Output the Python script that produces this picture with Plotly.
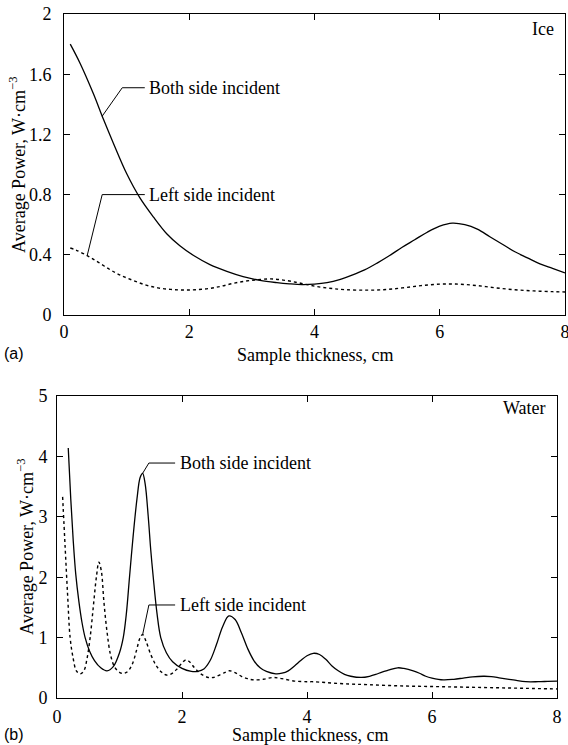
import numpy as np
import plotly.graph_objects as go

W, H = 568, 745

# ---------------- data ----------------
ice_both_x = [0.1, 0.26, 0.47, 0.63, 0.79, 1.0, 1.21, 1.43, 1.64, 1.85, 2.07, 2.33, 2.6, 2.86, 3.13,
              3.4, 3.6, 3.8, 4.0, 4.2, 4.4, 4.6, 4.8, 5.0, 5.2, 5.4, 5.6, 5.8, 6.0, 6.2, 6.4, 6.6,
              6.8, 7.0, 7.2, 7.4, 7.6, 7.8, 8.0]
ice_both_y = [1.80, 1.67, 1.47, 1.30, 1.14, 0.94, 0.78, 0.65, 0.54, 0.46, 0.395, 0.335, 0.29, 0.255,
              0.23, 0.215, 0.207, 0.202, 0.205, 0.215, 0.235, 0.265, 0.30, 0.345, 0.395, 0.45, 0.50,
              0.55, 0.59, 0.61, 0.60, 0.57, 0.52, 0.47, 0.42, 0.38, 0.34, 0.31, 0.28]

ice_left_x = [0.1, 0.2, 0.39, 0.55, 0.74, 0.9, 1.1, 1.3, 1.5, 1.7, 1.9, 2.1, 2.33, 2.5, 2.7, 2.9,
              3.1, 3.3, 3.5, 3.7, 3.9, 4.1, 4.3, 4.5, 4.8, 5.1, 5.4, 5.7, 6.0, 6.3, 6.6, 6.9, 7.2,
              7.5, 7.8, 8.0]
ice_left_y = [0.445, 0.43, 0.39, 0.35, 0.30, 0.265, 0.23, 0.20, 0.18, 0.17, 0.166, 0.168, 0.177,
              0.19, 0.21, 0.225, 0.235, 0.24, 0.232, 0.218, 0.20, 0.185, 0.175, 0.168, 0.165, 0.168,
              0.18, 0.195, 0.205, 0.205, 0.195, 0.18, 0.168, 0.16, 0.155, 0.153]

water_both_x = [0.18, 0.22, 0.26, 0.30, 0.35, 0.40, 0.45, 0.52, 0.60, 0.70, 0.80, 0.90, 1.00, 1.06,
                1.11, 1.16, 1.22, 1.28, 1.33, 1.37, 1.41, 1.46, 1.50, 1.54, 1.60, 1.66, 1.75, 1.85,
                2.00, 2.15, 2.25, 2.35, 2.45, 2.55, 2.65, 2.75, 2.85, 2.95, 3.05, 3.15, 3.25, 3.35,
                3.50, 3.60, 3.70, 3.80, 3.90, 4.00, 4.10, 4.20, 4.30, 4.40, 4.50, 4.60, 4.70, 4.87,
                5.00, 5.10, 5.20, 5.30, 5.45, 5.55, 5.70, 5.80, 5.90, 6.00, 6.18, 6.35, 6.50, 6.65,
                6.82, 6.95, 7.10, 7.30, 7.50, 7.70, 7.85, 8.00]
water_both_y = [4.14, 3.30, 2.60, 2.05, 1.60, 1.25, 1.00, 0.78, 0.62, 0.50, 0.45, 0.52, 0.75, 1.00,
                1.40, 2.00, 2.70, 3.30, 3.65, 3.72, 3.55, 3.00, 2.45, 2.00, 1.40, 1.00, 0.75, 0.60,
                0.49, 0.44, 0.44, 0.48, 0.62, 0.88, 1.18, 1.36, 1.30, 1.08, 0.82, 0.62, 0.50, 0.44,
                0.40, 0.41, 0.45, 0.53, 0.62, 0.70, 0.74, 0.72, 0.64, 0.53, 0.45, 0.39, 0.36, 0.34,
                0.36, 0.39, 0.43, 0.46, 0.50, 0.49, 0.45, 0.41, 0.36, 0.33, 0.30, 0.31, 0.33, 0.35,
                0.36, 0.355, 0.33, 0.30, 0.27, 0.27, 0.275, 0.28]

water_left_x = [0.09, 0.13, 0.17, 0.21, 0.26, 0.31, 0.37, 0.43, 0.48, 0.53, 0.58, 0.63, 0.67, 0.71,
                0.75, 0.80, 0.86, 0.93, 1.03, 1.12, 1.20, 1.27, 1.33, 1.37, 1.42, 1.50, 1.58, 1.67,
                1.75, 1.83, 1.92, 2.00, 2.06, 2.12, 2.20, 2.30, 2.42, 2.50, 2.60, 2.70, 2.76, 2.85,
                2.95, 3.05, 3.15, 3.30, 3.46, 3.60, 3.80, 4.00, 4.10, 4.30, 4.60, 5.00, 5.50, 6.00,
                6.50, 7.00, 7.50, 8.00]
water_left_y = [3.33, 2.50, 1.70, 1.00, 0.65, 0.45, 0.40, 0.45, 0.65, 1.00, 1.50, 2.00, 2.25, 2.10,
                1.60, 1.10, 0.70, 0.50, 0.41, 0.43, 0.55, 0.78, 1.00, 1.05, 0.95, 0.72, 0.55, 0.43,
                0.38, 0.40, 0.48, 0.58, 0.63, 0.60, 0.50, 0.40, 0.34, 0.34, 0.38, 0.43, 0.45, 0.42,
                0.36, 0.32, 0.30, 0.31, 0.34, 0.32, 0.28, 0.27, 0.27, 0.255, 0.235, 0.22, 0.20, 0.19,
                0.18, 0.17, 0.16, 0.15]

x_ticks = [0, 2, 4, 6, 8]
ice_y_ticks = [0, 0.4, 0.8, 1.2, 1.6, 2.0]
ice_y_labels = ["0", "0.4", "0.8", "1.2", "1.6", "2"]
water_y_ticks = [0, 1, 2, 3, 4, 5]
water_y_labels = ["0", "1", "2", "3", "4", "5"]

# ---------------- figure ----------------
SERIF = "Liberation Serif, Times New Roman, serif"
SANS = "Liberation Sans, Arial, sans-serif"
FS = 18

fig = go.Figure()
solid = dict(color="black", width=1.3)
dotted = dict(color="black", width=1.4, dash="dot")

fig.add_trace(go.Scatter(x=ice_both_x, y=ice_both_y, mode="lines", line=solid, line_shape="spline",
                         xaxis="x", yaxis="y", showlegend=False))
fig.add_trace(go.Scatter(x=ice_left_x, y=ice_left_y, mode="lines", line=dotted, line_shape="spline",
                         xaxis="x", yaxis="y", showlegend=False))
fig.add_trace(go.Scatter(x=water_both_x, y=water_both_y, mode="lines", line=solid, line_shape="spline",
                         xaxis="x2", yaxis="y2", showlegend=False))
fig.add_trace(go.Scatter(x=water_left_x, y=water_left_y, mode="lines", line=dotted, line_shape="spline",
                         xaxis="x2", yaxis="y2", showlegend=False))

# empty helper traces so the label-only overlay axes get drawn
for xa, ya in [("x", "y3"), ("x3", "y2"), ("x2", "y4")]:
    fig.add_trace(go.Scatter(x=[None], y=[None], mode="lines", xaxis=xa, yaxis=ya,
                             showlegend=False, hoverinfo="skip"))


def px_x(p):
    return p / W


def px_y(p):
    return 1 - p / H


tickfont = dict(family=SERIF, size=FS, color="black")
frame = dict(showline=True, linecolor="black", linewidth=1, mirror="ticks", ticks="inside",
             ticklen=6, tickcolor="black", tickwidth=1, showgrid=False, zeroline=False,
             tickfont=tickfont, automargin=False, ticklabeloverflow="allow")
labels_only = dict(showline=False, ticks="outside", tickcolor="rgba(0,0,0,0)", showgrid=False,
                   zeroline=False, tickfont=tickfont, automargin=False, ticklabeloverflow="allow")

fig.update_layout(
    width=W, height=H,
    margin=dict(l=0, r=0, t=0, b=0, autoexpand=False),
    paper_bgcolor="white", plot_bgcolor="white",
    xaxis=dict(domain=[px_x(64), px_x(565)], range=[0, 8], tickvals=x_ticks, anchor="y", **frame),
    yaxis=dict(domain=[px_y(315), px_y(14)], range=[0, 2], tickvals=ice_y_ticks, anchor="x",
               showticklabels=False, **frame),
    xaxis2=dict(domain=[px_x(57), px_x(557)], range=[0, 8], tickvals=x_ticks, anchor="y2",
                showticklabels=False, **frame),
    yaxis2=dict(domain=[px_y(698), px_y(396)], range=[0, 5], tickvals=water_y_ticks, anchor="x2",
                showticklabels=False, **frame),
    # label-only axes (offset from the frame like the reference)
    yaxis3=dict(overlaying="y", anchor="x", side="left", range=[0, 2], tickvals=ice_y_ticks,
                ticktext=ice_y_labels, ticklen=8, **labels_only),
    xaxis3=dict(overlaying="x2", anchor="y2", side="bottom", range=[0, 8], tickvals=x_ticks,
                ticklen=2, **labels_only),
    yaxis4=dict(overlaying="y2", anchor="x2", side="left", range=[0, 5], tickvals=water_y_ticks,
                ticktext=water_y_labels, ticklen=5, **labels_only),
)

ann = []
font_serif = dict(family=SERIF, size=FS, color="black")
font_sans = dict(family=SANS, size=16, color="black")
ytitle = "Average Power, W·cm<sup>−3</sup>"

# axis titles & panel labels (paper coords)
ann += [
    dict(text="Sample thickness, cm", x=px_x(315), y=px_y(355), xref="paper", yref="paper",
         showarrow=False, font=font_serif, xanchor="center", yanchor="middle"),
    dict(text="Sample thickness, cm", x=px_x(310), y=px_y(735), xref="paper", yref="paper",
         showarrow=False, font=font_serif, xanchor="center", yanchor="middle"),
    dict(text="(a)", x=px_x(2), y=px_y(353), xref="paper", yref="paper", showarrow=False,
         font=font_sans, xanchor="left", yanchor="middle"),
    dict(text="(b)", x=px_x(2), y=px_y(734), xref="paper", yref="paper", showarrow=False,
         font=font_sans, xanchor="left", yanchor="middle"),
    dict(text=ytitle, x=px_x(17), y=px_y(165), xref="paper", yref="paper", showarrow=False,
         font=font_serif, textangle=-90, xanchor="center", yanchor="middle"),
    dict(text=ytitle, x=px_x(25), y=px_y(547), xref="paper", yref="paper", showarrow=False,
         font=font_serif, textangle=-90, xanchor="center", yanchor="middle"),
    dict(text="Ice", x=7.85, y=1.9, xref="x", yref="y", showarrow=False, font=font_serif,
         xanchor="right", yanchor="middle"),
    dict(text="Water", x=7.85, y=4.8, xref="x2", yref="y2", showarrow=False, font=font_serif,
         xanchor="right", yanchor="middle"),
]

shapes = []


def leader(xa, ya, curve_x, curve_y, x0, dx_elbow, y_elbow, x_end, x_text, label):
    y0 = float(np.interp(x0, curve_x, curve_y))
    xe = x0 + dx_elbow
    shapes.append(dict(type="path", xref=xa, yref=ya,
                       path=f"M {x0},{y0} L {xe},{y_elbow} L {x_end},{y_elbow}",
                       line=dict(color="black", width=1)))
    ann.append(dict(text=label, x=x_text, y=y_elbow, xref=xa, yref=ya, showarrow=False,
                    font=font_serif, xanchor="left", yanchor="middle"))


leader("x", "y", ice_both_x, ice_both_y, 0.61, 0.32, 1.51, 1.29, 1.33, "Both side incident")
leader("x", "y", ice_left_x, ice_left_y, 0.37, 0.24, 0.80, 1.29, 1.33, "Left side incident")
leader("x2", "y2", water_both_x, water_both_y, 1.37, 0.10, 3.89, 1.89, 1.93, "Both side incident")
leader("x2", "y2", water_left_x, water_left_y, 1.37, 0.10, 1.54, 1.89, 1.93, "Left side incident")

fig.update_layout(annotations=ann, shapes=shapes)

fig.write_html("out.html")
